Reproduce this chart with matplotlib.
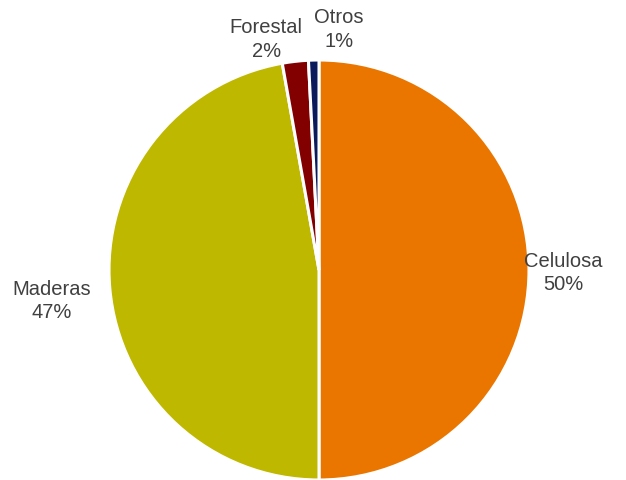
import matplotlib.pyplot as plt
import numpy as np

sectores = ["Celulosa", "Maderas", "Forestal", "Otros"]
porcentajes = [50.0, 47.2, 2.0, 0.8]
etiquetas = ["50%", "47%", "2%", "1%"]
colores = ["#EA7600", "#BFB800", "#820000", "#0B1A5A"]

plt.rcParams['font.family'] = ['Liberation Sans', 'DejaVu Sans']

fig = plt.figure(figsize=(6.26, 4.81), dpi=100)
ax = fig.add_axes([109 / 626, 0, 420 / 626, 420 / 481])

wedges, _ = ax.pie(porcentajes, colors=colores, startangle=90, counterclock=False,
                   radius=1, wedgeprops=dict(edgecolor="white", linewidth=2.2))
ax.set_xlim(-1, 1)
ax.set_ylim(-1, 1)
ax.set_aspect("equal")
ax.axis("off")

# label distance and nudges per slice
distancias = [1.16, 1.28, 1.12, 1.15]
nudges = [(0.005, -0.01), (0, -0.03), (-0.125, -0.01), (0.125, 0.0)]
for w, nombre, pct, d, (nx, ny) in zip(wedges, sectores, etiquetas, distancias, nudges):
    ang = np.deg2rad((w.theta1 + w.theta2) / 2)
    x = d * np.cos(ang) + nx
    y = d * np.sin(ang) + ny
    ax.text(x, y, nombre + "\n" + pct, ha="center", va="center", fontsize=14.5,
            color="#404040", linespacing=1.3, clip_on=False)

fig.savefig("out.png", dpi=100)
